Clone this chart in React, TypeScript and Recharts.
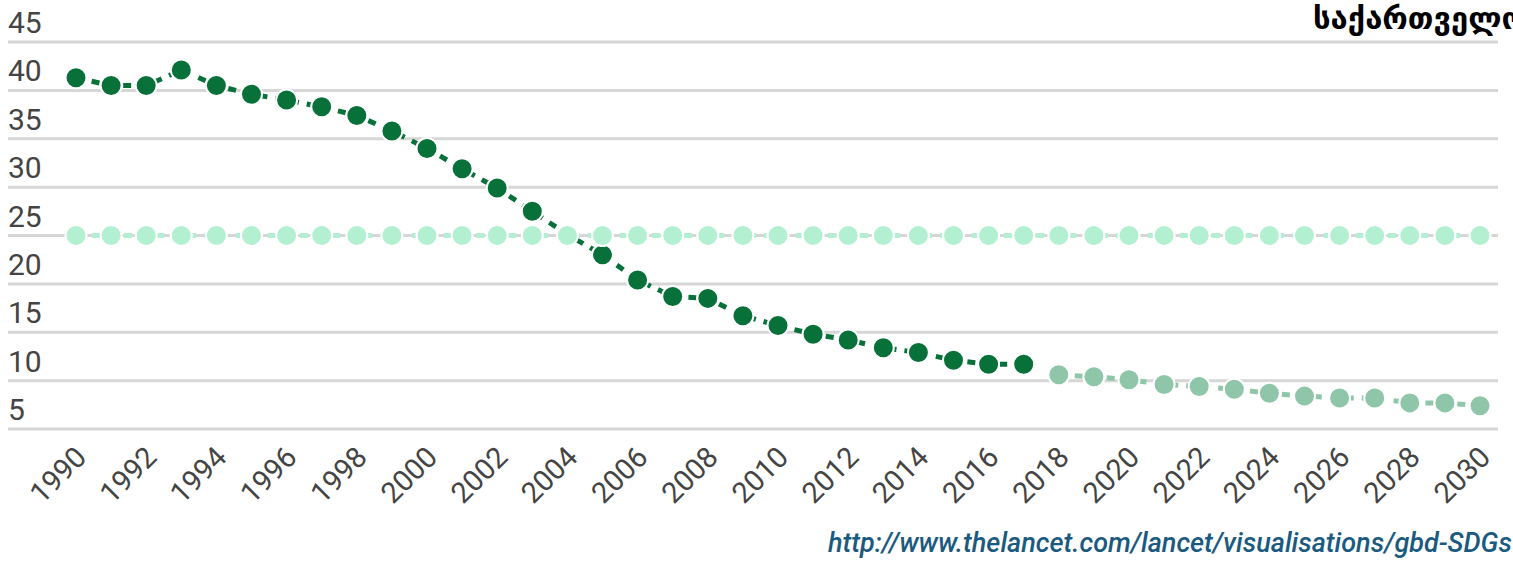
import React from "react";
import {CartesianGrid, Line, LineChart, XAxis, YAxis} from "recharts";

const years = [
  1990, 1991, 1992, 1993, 1994, 1995, 1996, 1997, 1998, 1999,
  2000, 2001, 2002, 2003, 2004, 2005, 2006, 2007, 2008, 2009,
  2010, 2011, 2012, 2013, 2014, 2015, 2016, 2017, 2018, 2019,
  2020, 2021, 2022, 2023, 2024, 2025, 2026, 2027, 2028, 2029, 2030,
];
// 1990-2017 estimates
const actual = [
  41.3, 40.5, 40.5, 42.1, 40.5, 39.6, 39.0, 38.3, 37.4, 35.8,
  34.0, 31.9, 29.9, 27.5, 25.1, 23.0, 20.4, 18.7, 18.5, 16.7,
  15.7, 14.8, 14.2, 13.4, 12.9, 12.1, 11.7, 11.7,
];
// 2018-2030 projection
const projected = [10.6, 10.4, 10.1, 9.6, 9.4, 9.1, 8.7, 8.4, 8.2, 8.2, 7.7, 7.7, 7.4];
const target = 25;
const yTicks = [5, 10, 15, 20, 25, 30, 35, 40, 45];
const xTicks = [
  1990, 1992, 1994, 1996, 1998, 2000, 2002, 2004, 2006, 2008, 2010,
  2012, 2014, 2016, 2018, 2020, 2022, 2024, 2026, 2028, 2030,
];
const title = "საქართველო";
const source = "http://www.thelancet.com/lancet/visualisations/gbd-SDGs";

const data = years.map((year, i) => ({
  year,
  actual: i < actual.length ? actual[i] : null,
  projected: i >= actual.length ? projected[i - actual.length] : null,
  target,
}));

const YTick = (props: any) => {
  const {y, payload} = props;
  return (
    <text x={8} y={y - 9} fill="#444" fontSize={30} fontFamily="Roboto" textAnchor="start">
      {payload.value}
    </text>
  );
};

const XTick = (props: any) => {
  const {x, y, payload} = props;
  return (
    <text x={x + 12} y={y + 22} fill="#444" fontSize={29} fontFamily="Roboto" textAnchor="end"
          transform={`rotate(-45 ${x + 12} ${y + 22})`}>
      {payload.value}
    </text>
  );
};

const dotStyle = (color: string) => ({r: 10.5, fill: color, stroke: "#fff", strokeWidth: 2, strokeDasharray: "0"});

export default function App() {
  return (
    <div style={{position: "absolute", left: 0, top: 0, width: 1513, height: 563, overflow: "hidden", background: "#fff"}}>
      <LineChart width={1513} height={563} data={data}
                 margin={{top: 42, right: 15, left: 7, bottom: 0}}>
        <CartesianGrid vertical={false} stroke="#d6d6d6" strokeWidth={3}/>
        <XAxis dataKey="year" type="number" domain={[1990, 2030]} ticks={xTicks} interval={0}
               padding={{left: 68, right: 18}} axisLine={false} tickLine={false} tick={<XTick/>} height={134}/>
        <YAxis domain={[5, 45]} ticks={yTicks} width={1} axisLine={false} tickLine={false} tick={<YTick/>}/>
        <Line dataKey="actual" stroke="#077139" strokeWidth={5} strokeDasharray="8 8"
              dot={dotStyle("#077139")} isAnimationActive={false}/>
        <Line dataKey="projected" stroke="#8fc6a9" strokeWidth={5} strokeDasharray="8 8"
              dot={dotStyle("#8fc6a9")} isAnimationActive={false}/>
        <Line dataKey="target" stroke="#b3f0d2" strokeWidth={5} strokeDasharray="8 8"
              dot={dotStyle("#b3f0d2")} isAnimationActive={false}/>
      </LineChart>
      <div style={{position: "absolute", left: 1313, top: 0, whiteSpace: "nowrap", fontFamily: "DejaVu Sans",
        fontWeight: "bold", fontSize: 31, color: "#000"}}>{title}</div>
      <div style={{position: "absolute", left: 828, top: 527, whiteSpace: "nowrap", fontFamily: "Roboto",
        fontStyle: "italic", fontWeight: 500, fontSize: 27, color: "#1b5a80"}}>{source}</div>
    </div>
  );
}
